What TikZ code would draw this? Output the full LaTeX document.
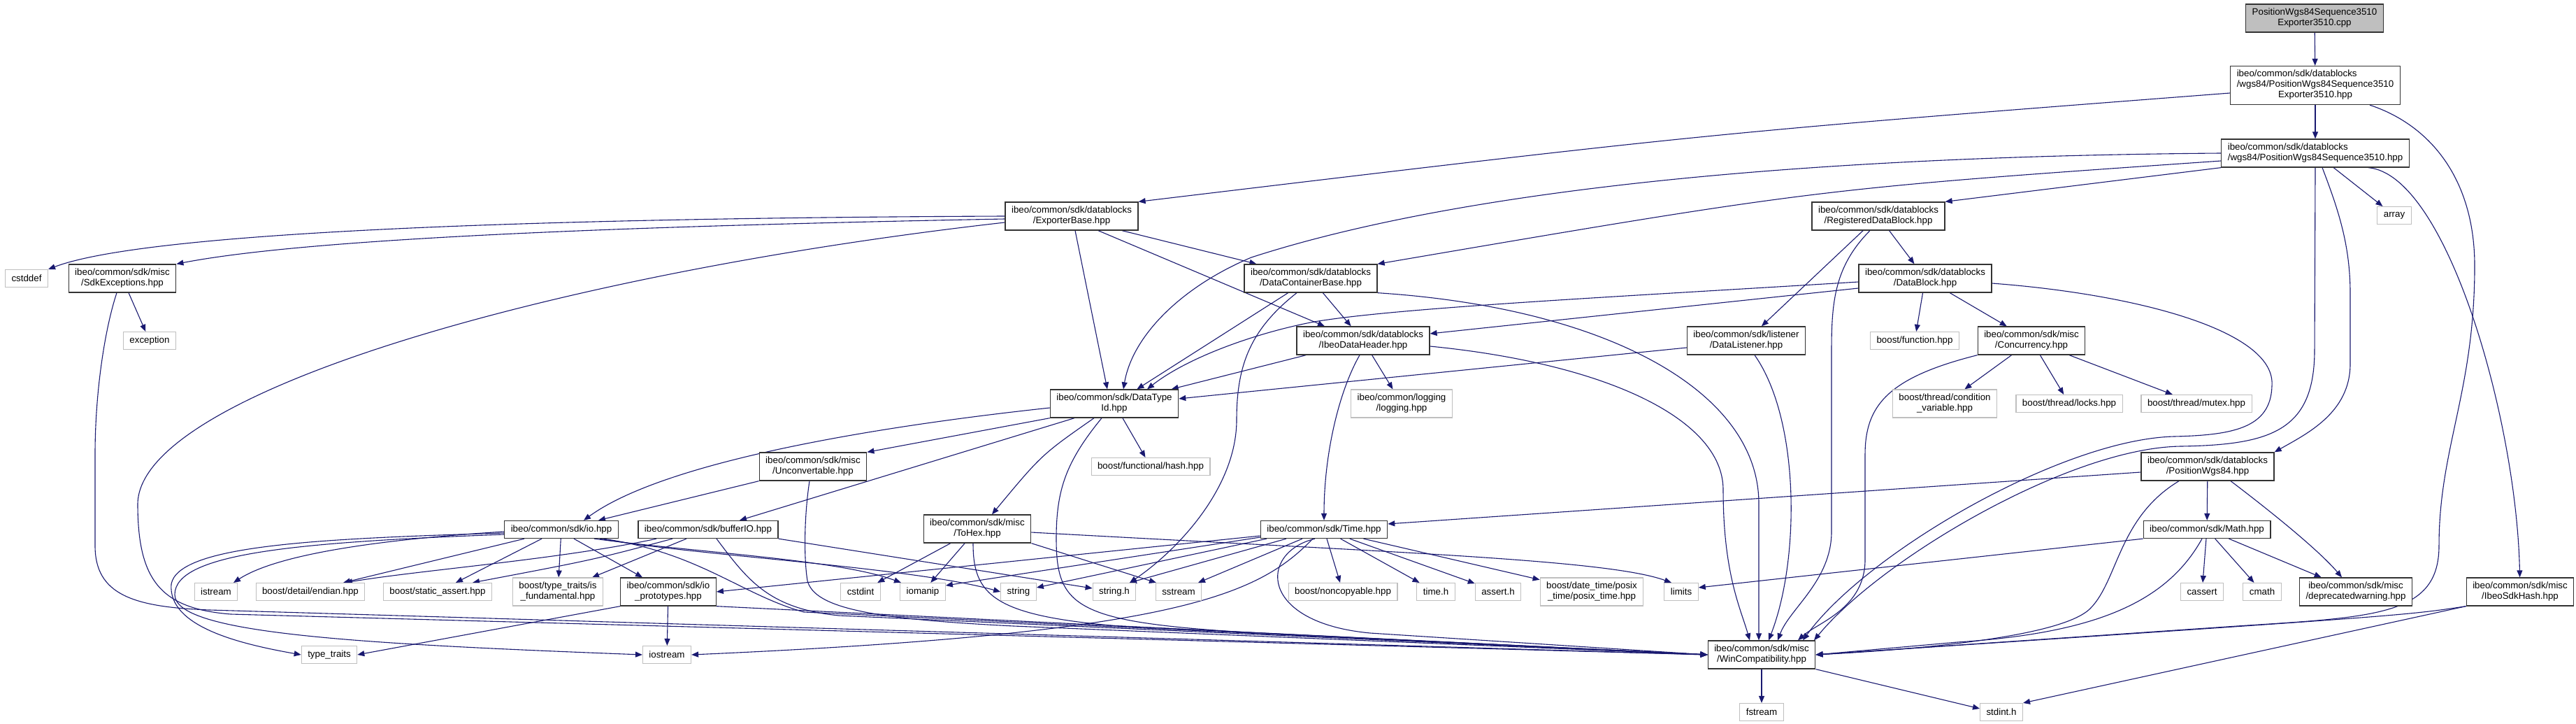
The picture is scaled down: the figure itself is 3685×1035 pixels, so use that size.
\documentclass[tikz,border=0pt]{standalone}
\usepackage{fontspec}
\setmainfont{Liberation Sans}
\usepackage{tikz}
\usetikzlibrary{arrows.meta}
\definecolor{edgeblue}{HTML}{191970}
\definecolor{extgray}{HTML}{BFBFBF}
\newcommand\dotfont{\fontsize{13.33}{15}\selectfont}
\pgfdeclarelayer{bg}
\pgfdeclarelayer{edges}
\pgfsetlayers{bg,edges,main}
\tikzset{
  docnode/.style={draw=black!80,line width=1.3pt,fill=white,font=\dotfont,align=center,inner xsep=9pt,inner ysep=0pt,minimum height=25pt},
  extnode/.style={docnode,draw=extgray,line width=1.1pt},
  rootnode/.style={docnode,fill=extgray},
  twoline/.style={minimum height=40pt},
  incl/.style={-{Triangle[length=10pt,width=8pt]},draw=edgeblue,line width=1.1pt}
}
\begin{document}
\begin{tikzpicture}[x=1pt,y=-1pt]
\useasboundingbox (0,0) rectangle (3685,1035);
\begin{pgfonlayer}{bg}
\fill[white] (0,0) rectangle (3685,1035);
\end{pgfonlayer}

% headers of the sdk
\node[rootnode,twoline] (root) at (3311,26) {PositionWgs84Sequence3510\\Exporter3510.cpp};
\node[docnode,minimum height=55pt] (pexph) at (3312,122) {\begin{tabular}{@{}l@{}}ibeo/common/sdk/datablocks\\/wgs84/PositionWgs84Sequence3510\\\multicolumn{1}{@{}c@{}}{Exporter3510.hpp}\end{tabular}};
\node[docnode,twoline,align=left] (pseq) at (3312,219) {ibeo/common/sdk/datablocks\\/wgs84/PositionWgs84Sequence3510.hpp};
\node[docnode,twoline] (expbase) at (1533,309) {ibeo/common/sdk/datablocks\\/ExporterBase.hpp};
\node[docnode,twoline] (regdb) at (2687,309) {ibeo/common/sdk/datablocks\\/RegisteredDataBlock.hpp};
\node[docnode,twoline] (sdkexc) at (175,398) {ibeo/common/sdk/misc\\/SdkExceptions.hpp};
\node[docnode,twoline] (dcbase) at (1875,398) {ibeo/common/sdk/datablocks\\/DataContainerBase.hpp};
\node[docnode,twoline] (datablock) at (2754,398) {ibeo/common/sdk/datablocks\\/DataBlock.hpp};
\node[docnode,twoline] (idheader) at (1950,487) {ibeo/common/sdk/datablocks\\/IbeoDataHeader.hpp};
\node[docnode,twoline] (dlistener) at (2498,487) {ibeo/common/sdk/listener\\/DataListener.hpp};
\node[docnode,twoline] (concur) at (2906,487) {ibeo/common/sdk/misc\\/Concurrency.hpp};
\node[docnode,twoline] (dtid) at (1594,577) {ibeo/common/sdk/DataType\\Id.hpp};
\node[docnode,twoline] (unconv) at (1163,667) {ibeo/common/sdk/misc\\/Unconvertable.hpp};
\node[docnode,twoline] (pwgs) at (3158,667) {ibeo/common/sdk/datablocks\\/PositionWgs84.hpp};
\node[docnode] (io) at (803,757) {ibeo/common/sdk/io.hpp};
\node[docnode] (bufio) at (1013,757) {ibeo/common/sdk/bufferIO.hpp};
\node[docnode,twoline] (tohex) at (1398,756) {ibeo/common/sdk/misc\\/ToHex.hpp};
\node[docnode] (time) at (1894,757) {ibeo/common/sdk/Time.hpp};
\node[docnode] (math) at (3157,757) {ibeo/common/sdk/Math.hpp};
\node[docnode,twoline] (ioproto) at (956,846) {ibeo/common/sdk/io\\\_prototypes.hpp};
\node[docnode,twoline] (deprec) at (3370,846) {ibeo/common/sdk/misc\\/deprecatedwarning.hpp};
\node[docnode,twoline] (sdkhash) at (3605,846) {ibeo/common/sdk/misc\\/IbeoSdkHash.hpp};
\node[docnode,twoline] (wincomp) at (2520,936) {ibeo/common/sdk/misc\\/WinCompatibility.hpp};

% system and boost headers
\node[extnode] (array) at (3425,308) {array};
\node[extnode] (cstddef) at (38,398) {cstddef};
\node[extnode] (exception) at (214,487) {exception};
\node[extnode] (function) at (2739,487) {boost/function.hpp};
\node[extnode,twoline] (logging) at (2005,577) {ibeo/common/logging\\/logging.hpp};
\node[extnode,twoline] (condvar) at (2782,577) {boost/thread/condition\\\_variable.hpp};
\node[extnode] (locks) at (2960,577) {boost/thread/locks.hpp};
\node[extnode] (mutex) at (3142,577) {boost/thread/mutex.hpp};
\node[extnode] (hash) at (1646,667) {boost/functional/hash.hpp};
\node[extnode] (istream) at (309,846) {istream};
\node[extnode] (endian) at (444,846) {boost/detail/endian.hpp};
\node[extnode] (sassert) at (626,846) {boost/static\_assert.hpp};
\node[extnode,twoline] (isfund) at (798,846) {boost/type\_traits/is\\\_fundamental.hpp};
\node[extnode] (cstdint) at (1231,846) {cstdint};
\node[extnode] (iomanip) at (1320,846) {iomanip};
\node[extnode] (string) at (1457,846) {string};
\node[extnode] (stringh) at (1594,846) {string.h};
\node[extnode] (sstream) at (1686,846) {sstream};
\node[extnode] (noncopy) at (1921,846) {boost/noncopyable.hpp};
\node[extnode] (timeh) at (2054,846) {time.h};
\node[extnode] (asserth) at (2143,846) {assert.h};
\node[extnode,twoline] (posix) at (2277,846) {boost/date\_time/posix\\\_time/posix\_time.hpp};
\node[extnode] (limits) at (2405,846) {limits};
\node[extnode] (cassert) at (3150,846) {cassert};
\node[extnode] (cmath) at (3236,846) {cmath};
\node[extnode] (typetr) at (471,936) {type\_traits};
\node[extnode] (iostream) at (954,936) {iostream};
\node[extnode] (fstream) at (2520,1018) {fstream};
\node[extnode] (stdinth) at (2863,1018) {stdint.h};

\begin{pgfonlayer}{edges}
% top of the graph
\draw[incl] (root) -- (pexph);
\draw[incl] (pexph) -- (pseq);
\draw[incl] ([yshift=-11pt]pexph.west) .. controls (2450,190) .. (expbase.north east);
\draw[incl] ([xshift=-44pt]pexph.south east) .. controls (3480,180) and (3540,260) .. (3540,380) .. controls (3540,560) and (3489,640) .. (3489,780) .. controls (3489,880) and (3400,882) .. (3200,895) -- (wincomp.east);
\draw[incl] (pseq) -- (array);
\draw[incl] (pseq.south west) -- (regdb.north east);
\draw[incl] ([yshift=-11pt]pseq.west) .. controls (2600,270) .. (dcbase.north east);
\draw[incl] (pseq.west) .. controls (2400,225) and (2000,300) .. (1790,368) .. controls (1690,410) and (1620,480) .. ([xshift=13pt]dtid.north);
\draw[incl] (pseq.south) -- (3311,500) .. controls (3311,615) and (3250,636) .. (3120,638) .. controls (2960,640) and (2690,800) .. ([xshift=75pt]wincomp.north);
\draw[incl] ([xshift=10pt]pseq.south) .. controls (3345,300) and (3362,350) .. (3362,420) -- (3362,520) .. controls (3362,590) and (3300,620) .. (pwgs.north east);
\draw[incl] ([xshift=76pt]pseq.south) .. controls (3500,250) and (3600,600) .. (sdkhash);
% ExporterBase and SdkExceptions
\draw[incl] (expbase.west) .. controls (700,312) and (200,335) .. (cstddef.north east);
\draw[incl] ([yshift=-4pt]expbase.west) .. controls (800,325) and (420,345) .. (sdkexc.north east);
\draw[incl] ([yshift=-9pt]expbase.west) .. controls (800,390) and (200,560) .. (197,720) .. controls (197,830) and (230,870) .. (330,878) -- (wincomp.west);
\draw[incl] ([xshift=5pt]expbase.south) -- ([xshift=-10pt]dtid.north);
\draw[incl] ([xshift=38pt]expbase.south) -- ([xshift=-55pt]idheader.north);
\draw[incl] ([xshift=72pt]expbase.south) -- ([xshift=18pt]dcbase.north west);
\draw[incl] (sdkexc) -- (exception);
\draw[incl] ([xshift=-8pt]sdkexc.south) .. controls (150,470) and (136,560) .. (136,650) -- (136,780) .. controls (136,850) and (190,868) .. (300,872) -- (wincomp.west);
% data containers
\draw[incl] (dcbase) -- (dtid);
\draw[incl] (dcbase) -- (idheader);
\draw[incl] ([xshift=-20pt]dcbase.south) .. controls (1790,470) and (1769,520) .. (1769,600) .. controls (1769,700) and (1680,790) .. ([xshift=22pt]stringh.north);
\draw[incl] (dcbase.south east) .. controls (2300,440) and (2516,560) .. (2516,720) -- ([xshift=-4pt]wincomp.north);
\draw[incl] (idheader) -- (dtid);
\draw[incl] ([xshift=-5pt]idheader.south) .. controls (1915,560) and (1894,650) .. (time);
\draw[incl] (idheader) -- (logging);
\draw[incl] ([yshift=-8pt]idheader.east) .. controls (2300,520) and (2465,600) .. (2465,700) .. controls (2465,820) and (2490,870) .. ([xshift=-17pt]wincomp.north);
\draw[incl] (regdb) -- (dlistener);
\draw[incl] ([xshift=-12pt]regdb.south) .. controls (2625,380) and (2620,430) .. (2620,500) -- (2620,760) .. controls (2620,830) and (2560,870) .. ([xshift=23pt]wincomp.north);
\draw[incl] (regdb) -- (datablock);
\draw[incl] ([yshift=-5pt]datablock.west) .. controls (2300,425) and (2000,440) .. (1880,460) .. controls (1800,475) and (1700,510) .. ([xshift=47pt]dtid.north);
\draw[incl] ([yshift=-14pt]datablock.west) -- ([yshift=10pt]idheader.east);
\draw[incl] (datablock) -- (function);
\draw[incl] (datablock) -- (concur);
\draw[incl] ([yshift=-7pt]datablock.east) .. controls (3050,420) and (3245,470) .. (3250,545) .. controls (3252,610) and (3200,622) .. (3110,624) .. controls (2950,628) and (2670,790) .. ([xshift=59pt]wincomp.north);
\draw[incl] ([yshift=-10pt]dlistener.west) -- ([yshift=7pt]dtid.east);
\draw[incl] ([xshift=12pt]dlistener.south) .. controls (2575,600) and (2575,800) .. ([xshift=10pt]wincomp.north);
\draw[incl] (concur.south west) .. controls (2700,540) and (2668,580) .. (2668,650) -- (2668,800) .. controls (2668,870) and (2600,890) .. ([xshift=52pt]wincomp.north);
\draw[incl] (concur) -- (condvar);
\draw[incl] (concur) -- (locks);
\draw[incl] (concur) -- (mutex);
% DataTypeId
\draw[incl] ([yshift=-6pt]dtid.west) .. controls (1250,610) and (950,660) .. ([xshift=32pt]io.north);
\draw[incl] (dtid.south west) -- (unconv.north east);
\draw[incl] ([xshift=-57pt]dtid.south) -- ([xshift=45pt]bufio.north);
\draw[incl] ([xshift=-29pt]dtid.south) .. controls (1490,650) .. ([xshift=21pt]tohex.north);
\draw[incl] ([xshift=-18pt]dtid.south) .. controls (1525,660) and (1511,700) .. (1511,770) .. controls (1511,870) and (1540,890) .. (1800,905) -- (wincomp.west);
\draw[incl] (dtid) -- (hash);
\draw[incl] (unconv.south west) -- ([xshift=53pt]io.north);
\draw[incl] ([xshift=-5pt]unconv.south) .. controls (1150,740) and (1150,800) .. (1155,830) .. controls (1165,870) and (1250,885) .. (1450,895) -- (wincomp.west);
% io
\draw[incl] ([yshift=-3pt]io.west) .. controls (560,770) and (400,790) .. ([xshift=25pt]istream.north);
\draw[incl] ([yshift=-5pt]io.west) .. controls (450,770) and (255,780) .. (245,835) .. controls (240,895) and (340,920) .. (typetr.west);
\draw[incl] ([yshift=-7pt]io.west) .. controls (430,775) and (250,790) .. (250,850) .. controls (250,905) and (500,920) .. (iostream.west);
\draw[incl] ([xshift=-53pt]io.south) -- ([xshift=47pt]endian.north);
\draw[incl] ([xshift=-28pt]io.south) -- ([xshift=26pt]sassert.north);
\draw[incl] (io) -- (isfund);
\draw[incl] ([xshift=18pt]io.south) -- ([xshift=-37pt]ioproto.north);
\draw[incl] ([xshift=47pt]io.south) .. controls (1000,790) and (1200,800) .. ([xshift=-31pt]iomanip.north);
\draw[incl] ([xshift=55pt]io.south) .. controls (1000,795) and (1300,810) .. (string.west);
\draw[incl] ([xshift=60pt]io.south) .. controls (1000,790) and (1060,850) .. (1150,875) -- (wincomp.west);
% bufferIO and io_prototypes
\draw[incl] ([xshift=-74pt]bufio.south) .. controls (800,800) and (600,815) .. ([xshift=50pt]endian.north);
\draw[incl] ([xshift=-51pt]bufio.south) .. controls (850,800) .. ([xshift=50pt]sassert.north);
\draw[incl] ([xshift=-31pt]bufio.south) -- ([xshift=49pt]isfund.north);
\draw[incl] ([xshift=12pt]bufio.south) .. controls (1070,830) and (1100,870) .. (1200,880) -- (wincomp.west);
\draw[incl] (bufio.south east) -- ([yshift=5pt]stringh.west);
\draw[incl] (ioproto.south west) -- (typetr.east);
\draw[incl] (ioproto) -- (iostream);
\draw[incl] (ioproto.south east) -- (wincomp.west);
% ToHex
\draw[incl] (tohex) -- (cstdint);
\draw[incl] (tohex) -- (iomanip);
\draw[incl] ([xshift=-6pt]tohex.south) .. controls (1392,850) and (1420,880) .. (1600,895) -- (wincomp.west);
\draw[incl] (tohex.south east) -- ([xshift=-32pt]sstream.north);
\draw[incl] ([yshift=-5pt]tohex.east) .. controls (2000,790) and (2300,800) .. ([xshift=-14pt]limits.north);
% Time
\draw[incl] ([yshift=-9pt]time.west) -- (ioproto.east);
\draw[incl] ([yshift=-11pt]time.west) -- ([yshift=9pt]iomanip.east);
\draw[incl] ([xshift=-82pt]time.south) -- ([yshift=6pt]string.east);
\draw[incl] ([xshift=-54pt]time.south) -- ([xshift=22pt]stringh.north);
\draw[incl] ([xshift=-31pt]time.south) -- ([xshift=28pt]sstream.north);
\draw[incl] ([xshift=-16pt]time.south) .. controls (1800,850) and (1690,905) .. (iostream.east);
\draw[incl] ([xshift=-13pt]time.south) .. controls (1800,790) and (1800,890) .. (1960,905) -- (wincomp.west);
\draw[incl] (time) -- (noncopy);
\draw[incl] (time) -- (timeh);
\draw[incl] (time) -- (asserth);
\draw[incl] (time) -- (posix);
% PositionWgs84 and Math
\draw[incl] ([yshift=-8pt]pwgs.west) -- ([yshift=8pt]time.east);
\draw[incl] ([xshift=-41pt]pwgs.south) .. controls (3030,740) and (3030,830) .. (2990,870) .. controls (2950,910) and (2750,928) .. (wincomp.east);
\draw[incl] (pwgs) -- (math);
\draw[incl] ([xshift=33pt]pwgs.south) .. controls (3260,740) and (3320,790) .. ([xshift=-20pt]deprec.north);
\draw[incl] (math.south west) -- ([yshift=6pt]limits.east);
\draw[incl] ([xshift=-7pt]math.south) .. controls (3100,860) and (3000,905) .. (2800,918) -- (wincomp.east);
\draw[incl] (math) -- (cassert);
\draw[incl] (math) -- (cmath);
\draw[incl] (math) -- (deprec);
\draw[incl] (sdkhash.south west) .. controls (3440,880) .. (wincomp.east);
\draw[incl] (sdkhash.south west) -- (stdinth.north east);
% WinCompatibility
\draw[incl] (wincomp) -- (fstream);
\draw[incl] (wincomp.south east) -- ([yshift=5pt]stdinth.west);
\end{pgfonlayer}
\end{tikzpicture}
\end{document}
